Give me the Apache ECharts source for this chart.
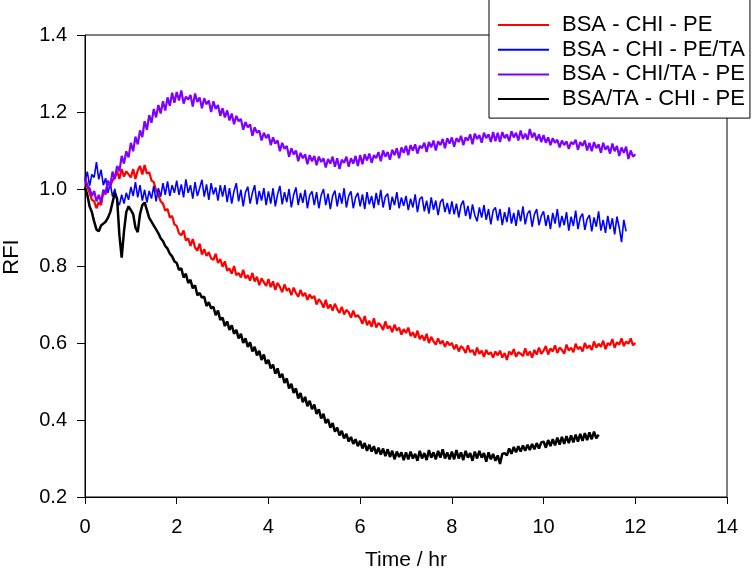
<!DOCTYPE html>
<html>
<head>
<meta charset="utf-8">
<script src="https://cdn.jsdelivr.net/npm/echarts@6/dist/echarts.min.js"></script>
<style>
html,body{margin:0;padding:0;background:#fff;}
#chart{width:756px;height:577px;}
</style>
</head>
<body>
<div id="chart"></div>
<script>
// sampling interval of the recordings (hours)
const dt = 0.05;

const seriesNames = ['BSA - CHI - PE', 'BSA - CHI - PE/TA', 'BSA - CHI/TA - PE', 'BSA/TA - CHI - PE'];
const xTicks = [0, 2, 4, 6, 8, 10, 12, 14];
const yTicks = [0.2, 0.4, 0.6, 0.8, 1.0, 1.2, 1.4];

// BSA - CHI - PE (red), t = 0 .. 12.00 h
const rfiRed = [
1.032,1.008,0.990,0.972,0.968,0.950,0.966,0.958,0.992,0.986,1.020,1.008,1.022,1.030,1.046,1.026,1.052,1.032,1.046,1.038,
1.030,1.052,1.026,1.048,1.060,1.038,1.062,1.040,1.044,1.022,1.018,0.996,0.985,0.968,0.962,0.944,0.948,0.926,0.930,0.908,
0.904,0.885,0.880,0.892,0.866,0.872,0.852,0.870,0.848,0.840,0.858,0.830,0.844,0.826,0.836,0.820,0.816,0.832,0.808,0.818,
0.798,0.812,0.788,0.794,0.780,0.800,0.776,0.782,0.770,0.790,0.768,0.776,0.762,0.782,0.760,0.772,0.750,0.768,0.758,0.748,
0.766,0.745,0.760,0.738,0.756,0.746,0.732,0.752,0.736,0.742,0.724,0.744,0.730,0.720,0.738,0.722,0.730,0.712,0.726,0.716,
0.722,0.700,0.714,0.706,0.692,0.712,0.690,0.700,0.684,0.702,0.688,0.678,0.694,0.674,0.686,0.680,0.666,0.684,0.668,0.672,
0.664,0.650,0.670,0.646,0.658,0.642,0.664,0.640,0.652,0.646,0.634,0.656,0.638,0.644,0.628,0.648,0.632,0.640,0.622,0.636,
0.626,0.640,0.618,0.628,0.614,0.632,0.610,0.620,0.606,0.624,0.600,0.616,0.604,0.596,0.612,0.598,0.606,0.590,0.604,0.594,
0.600,0.584,0.596,0.578,0.592,0.586,0.574,0.594,0.576,0.582,0.568,0.588,0.572,0.580,0.564,0.582,0.570,0.576,0.562,0.578,
0.568,0.580,0.562,0.574,0.556,0.578,0.570,0.584,0.564,0.576,0.572,0.566,0.586,0.568,0.578,0.562,0.582,0.570,0.588,0.572,
0.580,0.592,0.570,0.586,0.578,0.594,0.574,0.588,0.582,0.572,0.596,0.580,0.588,0.576,0.598,0.584,0.590,0.578,0.600,0.586,
0.594,0.582,0.604,0.588,0.598,0.590,0.606,0.584,0.600,0.594,0.610,0.588,0.602,0.596,0.612,0.592,0.604,0.598,0.612,0.594,
0.600
];

// BSA - CHI - PE/TA (blue), t = 0 .. 11.80 h
const rfiBlue = [
1.020,1.045,1.008,1.038,1.030,1.070,1.025,1.050,1.010,1.028,0.990,1.015,0.980,1.000,0.968,0.958,0.985,0.962,0.990,0.972,
1.005,0.982,1.018,0.978,1.010,0.970,0.998,0.965,0.995,0.975,1.008,0.968,1.002,0.980,1.015,0.985,1.020,0.982,1.010,0.990,
1.022,0.985,1.012,0.978,1.025,0.990,1.010,0.975,1.018,0.982,1.002,1.024,0.980,1.012,0.972,1.015,0.986,1.004,0.970,1.010,
0.980,1.010,0.966,1.002,0.962,0.995,1.015,0.968,0.998,0.955,0.992,1.006,0.962,0.990,1.010,0.960,0.995,0.970,1.002,0.958,
0.994,0.962,1.002,0.955,0.986,1.008,0.960,0.992,0.966,1.000,0.952,0.985,1.004,0.958,0.990,0.964,0.998,0.950,0.984,0.994,
0.958,0.992,0.950,0.984,1.000,0.958,0.988,0.948,0.982,0.996,0.955,0.990,0.962,1.002,0.952,0.982,0.994,0.950,0.978,0.990,
0.955,0.986,0.948,0.992,0.960,0.982,0.950,0.990,0.958,0.998,0.952,0.980,0.988,0.946,0.980,0.958,0.992,0.950,0.978,0.956,
0.982,0.945,0.975,0.952,0.986,0.940,0.974,0.980,0.942,0.970,0.936,0.978,0.946,0.970,0.932,0.966,0.974,0.940,0.964,0.935,
0.968,0.934,0.962,0.926,0.958,0.970,0.930,0.956,0.922,0.960,0.932,0.916,0.952,0.926,0.958,0.920,0.948,0.908,0.944,0.952,
0.918,0.948,0.906,0.940,0.914,0.952,0.910,0.938,0.904,0.946,0.916,0.955,0.908,0.936,0.944,0.902,0.934,0.948,0.906,0.930,
0.942,0.904,0.932,0.896,0.938,0.910,0.948,0.900,0.930,0.906,0.940,0.892,0.928,0.904,0.944,0.896,0.926,0.936,0.894,0.922,
0.932,0.890,0.926,0.902,0.942,0.892,0.920,0.886,0.930,0.896,0.924,0.882,0.928,0.900,0.862,0.920,0.890
];

// BSA - CHI/TA - PE (purple), t = 0 .. 12.00 h
const rfiPurple = [
1.025,1.008,1.002,0.982,0.995,0.968,0.985,0.966,0.998,0.988,1.022,1.006,1.045,1.026,1.060,1.046,1.086,1.066,1.098,1.082,
1.120,1.098,1.136,1.116,1.152,1.135,1.176,1.154,1.192,1.172,1.208,1.186,1.218,1.196,1.228,1.204,1.238,1.216,1.250,1.224,
1.252,1.230,1.256,1.222,1.240,1.232,1.244,1.214,1.248,1.226,1.238,1.210,1.236,1.220,1.230,1.200,1.228,1.208,1.218,1.190,
1.210,1.186,1.204,1.178,1.196,1.168,1.190,1.176,1.182,1.154,1.174,1.160,1.168,1.138,1.160,1.146,1.152,1.126,1.146,1.132,
1.142,1.114,1.134,1.118,1.126,1.098,1.120,1.104,1.112,1.084,1.106,1.090,1.100,1.072,1.094,1.080,1.090,1.064,1.088,1.072,
1.086,1.062,1.084,1.070,1.080,1.056,1.078,1.066,1.084,1.058,1.080,1.052,1.076,1.068,1.084,1.058,1.080,1.066,1.086,1.060,
1.088,1.064,1.090,1.074,1.092,1.068,1.088,1.080,1.096,1.072,1.100,1.084,1.096,1.076,1.102,1.088,1.106,1.080,1.108,1.094,
1.112,1.088,1.114,1.100,1.116,1.092,1.112,1.106,1.120,1.096,1.122,1.108,1.126,1.100,1.124,1.114,1.130,1.106,1.132,1.118,
1.134,1.110,1.132,1.122,1.138,1.114,1.134,1.126,1.142,1.116,1.144,1.130,1.140,1.120,1.146,1.132,1.142,1.122,1.148,1.124,
1.146,1.122,1.148,1.132,1.142,1.124,1.150,1.134,1.146,1.126,1.152,1.130,1.144,1.128,1.156,1.134,1.146,1.126,1.142,1.122,
1.140,1.120,1.134,1.114,1.132,1.120,1.128,1.108,1.126,1.114,1.124,1.104,1.122,1.116,1.128,1.102,1.122,1.112,1.126,1.100,
1.120,1.098,1.122,1.106,1.116,1.094,1.120,1.102,1.112,1.092,1.118,1.098,1.112,1.086,1.108,1.094,1.110,1.078,1.100,1.084,
1.090
];

// BSA/TA - CHI - PE (black), t = 0 .. 11.20 h
const rfiBlack = [
1.005,0.985,0.955,0.940,0.915,0.895,0.890,0.905,0.910,0.915,0.925,0.940,0.965,0.990,0.975,0.880,0.822,0.890,0.940,0.955,
0.945,0.935,0.900,0.888,0.935,0.958,0.965,0.945,0.925,0.915,0.905,0.895,0.885,0.872,0.865,0.852,0.845,0.832,0.825,0.812,
0.808,0.790,0.794,0.770,0.780,0.756,0.764,0.742,0.750,0.724,0.730,0.718,0.720,0.696,0.706,0.690,0.694,0.672,0.684,0.660,
0.666,0.644,0.656,0.634,0.646,0.624,0.634,0.612,0.624,0.600,0.612,0.590,0.602,0.578,0.590,0.568,0.580,0.556,0.570,0.546,
0.556,0.534,0.544,0.520,0.534,0.510,0.520,0.496,0.508,0.482,0.494,0.470,0.482,0.456,0.470,0.446,0.460,0.436,0.450,0.428,
0.440,0.416,0.428,0.404,0.416,0.392,0.402,0.380,0.392,0.370,0.380,0.360,0.372,0.352,0.364,0.344,0.356,0.338,0.350,0.332,
0.346,0.326,0.340,0.320,0.336,0.318,0.332,0.312,0.328,0.310,0.326,0.306,0.324,0.304,0.320,0.298,0.318,0.304,0.316,0.296,
0.316,0.298,0.318,0.300,0.312,0.294,0.320,0.300,0.314,0.296,0.322,0.302,0.316,0.298,0.320,0.302,0.324,0.300,0.316,0.298,
0.318,0.298,0.322,0.300,0.316,0.296,0.320,0.302,0.314,0.294,0.318,0.300,0.320,0.302,0.314,0.292,0.316,0.298,0.312,0.294,
0.308,0.286,0.312,0.314,0.308,0.326,0.312,0.330,0.316,0.332,0.318,0.334,0.320,0.336,0.322,0.338,0.324,0.340,0.326,0.342,
0.344,0.328,0.348,0.332,0.350,0.334,0.354,0.336,0.356,0.338,0.358,0.340,0.360,0.342,0.362,0.344,0.364,0.346,0.366,0.348,
0.368,0.350,0.370,0.352,0.362
];

const seriesValues = [rfiRed, rfiBlue, rfiPurple, rfiBlack];
const seriesColors = ['#ff0000', '#0000ff', '#7f00ff', '#000000'];
const seriesWidths = [2.2, 1.6, 2.2, 2.5];

function toPairs(arr) {
  return arr.map((v, i) => [Math.round(i * dt * 100) / 100, v]);
}

const FONT = "'Liberation Sans', Arial, sans-serif";
const chart = echarts.init(document.getElementById('chart'), null, {renderer: 'canvas'});

chart.setOption({
  animation: false,
  backgroundColor: '#fff',
  grid: {
    left: 85, right: 29, top: 35, bottom: 80,
    containLabel: false,
    outerBoundsMode: 'none',
    show: true, borderColor: '#000', borderWidth: 1, backgroundColor: 'transparent'
  },
  legend: {
    data: seriesNames,
    orient: 'vertical',
    left: 489,
    top: -4,
    padding: [18, 5, 8, 9],
    icon: 'rect',
    itemWidth: 51,
    itemHeight: 2,
    itemGap: 2.7,
    backgroundColor: '#fff',
    borderColor: '#000',
    borderWidth: 1,
    textStyle: {fontFamily: FONT, fontSize: 22, lineHeight: 22, color: '#000', padding: [0, 0, 0, 8]}
  },
  xAxis: {
    type: 'value',
    min: xTicks[0], max: xTicks[xTicks.length - 1], interval: 2,
    name: 'Time / hr',
    nameLocation: 'middle',
    nameGap: 53,
    nameTextStyle: {fontFamily: FONT, fontSize: 21, color: '#000'},
    axisLine: {show: true, lineStyle: {color: '#000', width: 1}},
    axisTick: {show: true, inside: false, length: 7, lineStyle: {color: '#000'}},
    axisLabel: {fontFamily: FONT, fontSize: 20, color: '#000', margin: 20},
    splitLine: {show: false}
  },
  yAxis: {
    type: 'value',
    min: yTicks[0], max: yTicks[yTicks.length - 1], interval: 0.2,
    name: 'RFI',
    nameLocation: 'middle',
    nameGap: 62,
    nameRotate: 90,
    nameTextStyle: {fontFamily: FONT, fontSize: 22, color: '#000', padding: [0, 0, 0, 18]},
    axisLine: {show: true, lineStyle: {color: '#000', width: 1}},
    axisTick: {show: true, inside: false, length: 8, lineStyle: {color: '#000'}},
    axisLabel: {fontFamily: FONT, fontSize: 20, color: '#000', margin: 18,
      formatter: v => v.toFixed(1)},
    splitLine: {show: false}
  },
  series: seriesNames.map((name, k) => ({
    name: name,
    type: 'line',
    data: toPairs(seriesValues[k]),
    symbol: 'none',
    showSymbol: false,
    smooth: false,
    color: seriesColors[k],
    lineStyle: {color: seriesColors[k], width: seriesWidths[k]},
    z: 2 + k
  }))
});
</script>
</body>
</html>
